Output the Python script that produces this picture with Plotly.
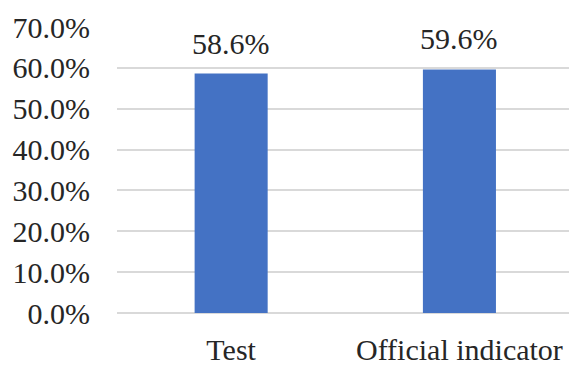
import plotly.graph_objects as go

categories = ["Test", "Official indicator"]
values = [0.586, 0.596]
tick_vals = [0, 0.1, 0.2, 0.3, 0.4, 0.5, 0.6, 0.7]
tick_text = ["0.0%", "10.0%", "20.0%", "30.0%", "40.0%", "50.0%", "60.0%", "70.0%"]

FONT = "Liberation Serif, Times New Roman, serif"
fsize = 30

fig = go.Figure()
fig.add_trace(go.Bar(
    x=categories, y=values, width=0.32,
    marker=dict(color="#4472C4", line=dict(width=0)),
    cliponaxis=False,
))
for c, v in zip(categories, values):
    fig.add_annotation(x=c, y=v, text=f"{v*100:.1f}%", showarrow=False,
                       yanchor="bottom", yshift=12,
                       font=dict(family=FONT, size=fsize, color="#262626"))
fig.update_layout(
    width=569, height=365,
    margin=dict(l=117, r=0, t=27, b=52),
    paper_bgcolor="white", plot_bgcolor="white",
    showlegend=False,
    font=dict(family=FONT, size=fsize, color="#262626"),
    xaxis=dict(range=[-0.5, 1.48], showgrid=False, showline=False, zeroline=False,
               ticks="", ticklabelstandoff=16,
               tickfont=dict(family=FONT, size=fsize, color="#262626")),
    yaxis=dict(range=[0, 0.7], tickvals=tick_vals, ticktext=tick_text,
               showgrid=True, gridcolor="#D9D9D9", gridwidth=1.5,
               zeroline=True, zerolinecolor="#D9D9D9", zerolinewidth=1.5,
               showline=False, ticks="", ticklabelstandoff=26,
               tickfont=dict(family=FONT, size=fsize, color="#262626")),
)
fig.write_html("out.html")
